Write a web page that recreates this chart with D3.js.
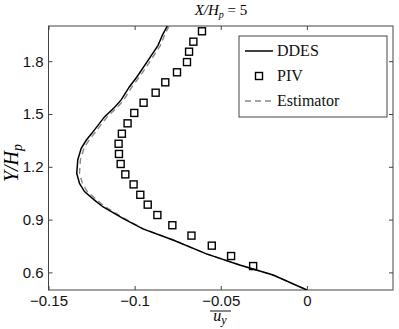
<!DOCTYPE html>
<html>
<head>
<meta charset="utf-8">
<script src="https://cdnjs.cloudflare.com/ajax/libs/d3/7.8.5/d3.min.js"></script>
<style>
body { margin: 0; background: #fff; }
svg { display: block; }
</style>
</head>
<body>
<svg width="399" height="329"></svg>
<script>
// heights Y/Hp where the curves were read
var heights = [2.0, 1.95, 1.89, 1.80, 1.71, 1.655, 1.58, 1.538, 1.485, 1.41, 1.352, 1.305, 1.24,
               1.163, 1.106, 1.059, 1.011, 0.973, 0.907, 0.847, 0.784, 0.705, 0.642, 0.585, 0.5];
var ddes = [-0.0810, -0.0838, -0.0864, -0.0925, -0.0987, -0.1030, -0.1078, -0.1116, -0.1174, -0.1233,
            -0.1280, -0.1310, -0.1330, -0.1336, -0.1320, -0.1291, -0.1233, -0.1185, -0.1068, -0.0952,
            -0.0777, -0.0583, -0.0390, -0.0196, 0];
var estimator = [-0.0800, -0.0826, -0.0850, -0.0910, -0.0972, -0.1015, -0.1063, -0.1101, -0.1158, -0.1218,
                 -0.1265, -0.1294, -0.1315, -0.1320, -0.1303, -0.1275, -0.1218, -0.1172, -0.1060, -0.0948,
                 -0.0776, -0.0583, -0.0390, -0.0196, 0];
var pivY = [1.970, 1.911, 1.854, 1.795, 1.737, 1.680, 1.621, 1.564, 1.506, 1.447, 1.388, 1.331,
            1.273, 1.216, 1.157, 1.100, 1.041, 0.985, 0.926, 0.868, 0.809, 0.752, 0.693, 0.636];
var pivX = [-0.0609, -0.0659, -0.0684, -0.0696, -0.0754, -0.0822, -0.0878, -0.0948, -0.1002, -0.1041,
            -0.1074, -0.1093, -0.1091, -0.1081, -0.1054, -0.1006, -0.0967, -0.0924, -0.0868, -0.0781,
            -0.0670, -0.0552, -0.0440, -0.0312];
var xTicks = [-0.15, -0.1, -0.05, 0];
var xTickLabels = ["\u22120.15", "\u22120.1", "\u22120.05", "0"];
var yTicks = [0.6, 0.9, 1.2, 1.5, 1.8];
var yTickLabels = ["0.6", "0.9", "1.2", "1.5", "1.8"];
var legendNames = ["DDES", "PIV", "Estimator"];

var svg = d3.select("svg");
var pLeft = 48.5, pRight = 393, pTop = 26, pBottom = 290;

var x = d3.scaleLinear().domain([-0.15, 0.05]).range([pLeft, pRight]);
var y = d3.scaleLinear().domain([0.5, 2.0]).range([pBottom, pTop]);

svg.append("defs").append("clipPath").attr("id", "plotclip")
   .append("rect")
   .attr("x", pLeft).attr("y", pTop)
   .attr("width", pRight - pLeft).attr("height", pBottom - pTop);

// axes, ticks pointing inwards on all four sides
function styleAxis(g) {
    g.select(".domain").remove();
    g.selectAll(".tick line").attr("stroke", "#444");
    g.selectAll(".tick text")
     .attr("font-family", "Liberation Sans, Arial, sans-serif")
     .attr("font-size", 15)
     .attr("fill", "#111");
}
svg.append("g").attr("transform", "translate(0," + pBottom + ")")
   .call(d3.axisBottom(x).tickValues(xTicks).tickSize(-4).tickPadding(5)
         .tickFormat(function(d, i) { return xTickLabels[i]; }))
   .call(styleAxis);
svg.append("g").attr("transform", "translate(0," + pTop + ")")
   .call(d3.axisTop(x).tickValues(xTicks).tickSize(-4).tickFormat(""))
   .call(styleAxis);
svg.append("g").attr("transform", "translate(" + pLeft + ",0)")
   .call(d3.axisLeft(y).tickValues(yTicks).tickSize(-4).tickPadding(5)
         .tickFormat(function(d, i) { return yTickLabels[i]; }))
   .call(styleAxis);
svg.append("g").attr("transform", "translate(" + pRight + ",0)")
   .call(d3.axisRight(y).tickValues(yTicks).tickSize(-4).tickFormat(""))
   .call(styleAxis);

svg.append("rect")
   .attr("x", pLeft).attr("y", pTop)
   .attr("width", pRight - pLeft).attr("height", pBottom - pTop)
   .attr("fill", "none").attr("stroke", "#444").attr("stroke-width", 1);

var plot = svg.append("g").attr("clip-path", "url(#plotclip)");

var line = d3.line()
    .x(function(d) { return x(d[0]); })
    .y(function(d) { return y(d[1]); });

plot.append("path")
    .datum(estimator.map(function(v, i) { return [v, heights[i]]; }))
    .attr("d", line)
    .attr("fill", "none").attr("stroke", "#888").attr("stroke-width", 1.4)
    .attr("stroke-dasharray", "6,4");

plot.append("path")
    .datum(ddes.map(function(v, i) { return [v, heights[i]]; }))
    .attr("d", line)
    .attr("fill", "none").attr("stroke", "#000").attr("stroke-width", 1.5);

var sq = 7;
plot.selectAll("rect.piv")
    .data(pivX.map(function(v, i) { return [v, pivY[i]]; }))
    .enter()
    .append("rect")
    .attr("class", "piv")
    .attr("x", function(d) { return x(d[0]) - sq / 2; })
    .attr("y", function(d) { return y(d[1]) - sq / 2; })
    .attr("width", sq).attr("height", sq)
    .attr("fill", "none").attr("stroke", "#000").attr("stroke-width", 1.4);

// title and axis labels
svg.append("text")
   .attr("x", 221).attr("y", 15)
   .attr("text-anchor", "middle")
   .attr("font-family", "Liberation Serif, serif")
   .attr("font-size", 15)
   .attr("font-style", "italic")
   .html('X/H<tspan font-size="10" dy="3">p</tspan><tspan dy="-3" font-style="normal"> = 5</tspan>');

svg.append("text")
   .attr("transform", "translate(18," + 163 + ") rotate(-90)")
   .attr("text-anchor", "middle")
   .attr("font-family", "Liberation Serif, serif")
   .attr("font-size", 20)
   .attr("font-style", "italic")
   .html('Y/H<tspan font-size="14" dy="4">p</tspan>');

var xl = svg.append("g");
xl.append("text")
  .attr("x", 220).attr("y", 321)
  .attr("text-anchor", "middle")
  .attr("font-family", "Liberation Serif, serif")
  .attr("font-size", 16)
  .attr("font-style", "italic")
  .html('u<tspan font-size="12" dy="3">y</tspan>');
xl.append("line")
  .attr("x1", 210).attr("x2", 231).attr("y1", 311).attr("y2", 311)
  .attr("stroke", "#111").attr("stroke-width", 1);

// legend
var legend = svg.append("g");
legend.append("rect")
      .attr("x", 239).attr("y", 36).attr("width", 148).attr("height", 81)
      .attr("fill", "#fff").attr("stroke", "#444").attr("stroke-width", 1);
var rowY = [51, 76, 101];
legend.append("line")
      .attr("x1", 245).attr("x2", 273).attr("y1", rowY[0]).attr("y2", rowY[0])
      .attr("stroke", "#000").attr("stroke-width", 1.5);
legend.append("rect")
      .attr("x", 259 - sq / 2).attr("y", rowY[1] - sq / 2).attr("width", sq).attr("height", sq)
      .attr("fill", "none").attr("stroke", "#000").attr("stroke-width", 1.4);
legend.append("line")
      .attr("x1", 245).attr("x2", 273).attr("y1", rowY[2]).attr("y2", rowY[2])
      .attr("stroke", "#888").attr("stroke-width", 1.4).attr("stroke-dasharray", "6,4");
legend.selectAll("text.lg")
      .data(legendNames)
      .enter()
      .append("text")
      .attr("class", "lg")
      .attr("x", 277)
      .attr("y", function(d, i) { return rowY[i] + 5; })
      .attr("font-family", "Liberation Serif, serif")
      .attr("font-size", 16)
      .attr("fill", "#111")
      .text(function(d) { return d; });
</script>
</body>
</html>
